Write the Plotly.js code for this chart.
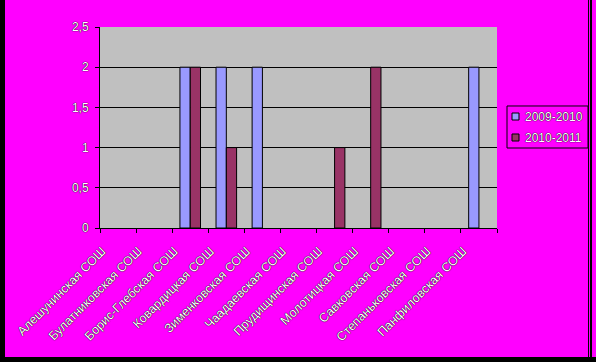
<!DOCTYPE html>
<html>
<head>
<meta charset="utf-8">
<script src="https://cdn.plot.ly/plotly-3.0.1.min.js"></script>
<style>
  html, body { margin: 0; padding: 0; background: #FF00FF; }
  #wrap { position: relative; width: 596px; height: 362px; overflow: hidden; }
  #chart { position: absolute; left: 0; top: 0; width: 596px; height: 362px; }
  .bd { position: absolute; background: #000; pointer-events: none; }
</style>
</head>
<body>
<div id="wrap">
  <div id="chart"></div>
  <div class="bd" style="left:0;top:0;width:5px;height:362px;"></div>
  <div class="bd" style="left:0;top:357px;width:596px;height:5px;"></div>
  <div class="bd" style="left:588px;top:0;width:1px;height:362px;"></div>
  <div class="bd" style="left:590px;top:0;width:2px;height:362px;"></div>
</div>
<script>
const categories = [
  "Алешунинская СОШ",
  "Булатниковская СОШ",
  "Борис-Глебская СОШ",
  "Ковардицкая СОШ",
  "Зименковская СОШ",
  "Чаадаевская СОШ",
  "Прудищинская СОШ",
  "Молотицкая СОШ",
  "Савковская СОШ",
  "Степаньковская СОШ",
  "Панфиловская СОШ"
];
const series2009_2010 = [0, 0, 2, 2, 2, 0, 0, 0, 0, 0, 2];
const series2010_2011 = [0, 0, 2, 1, 0, 0, 1, 2, 0, 0, 0];
const seriesNames = ["2009-2010", "2010-2011"];
const seriesColors = ["#9999FF", "#993366"];
const yTickVals = [0, 0.5, 1, 1.5, 2, 2.5];

const baseFont = {
  family: "Liberation Sans, Arial, sans-serif",
  size: 12,
  color: "#ffffff",
  shadow: "0 0 1px #000, 0 0 1px #000"
};
const xFont = Object.assign({}, baseFont, { size: 12.5 });

// zero-height bars are invisible in the original, so no outline for them
const outline = vals => vals.map(v => (v > 0 ? 1 : 0));

const traces = [
  {
    type: "bar", name: seriesNames[0], x: categories, y: series2009_2010,
    marker: { color: seriesColors[0], line: { color: "#000000", width: outline(series2009_2010) } }
  },
  {
    type: "bar", name: seriesNames[1], x: categories, y: series2010_2011,
    marker: { color: seriesColors[1], line: { color: "#000000", width: outline(series2010_2011) } }
  }
];

// compact legend (box, swatches, labels) placed to the right of the plot
const legendShapes = [
  { type: "rect", xref: "paper", yref: "paper", x0: 1.0252, x1: 1.2292, y0: 0.398, y1: 0.607,
    line: { color: "#000", width: 1 }, fillcolor: "rgba(0,0,0,0)" }
];
const legendAnnotations = [];
const swatchY = [[0.5373, 0.5721], [0.4328, 0.4677]];
const labelY = [0.5522, 0.4478];
seriesNames.forEach((nm, i) => {
  legendShapes.push({ type: "rect", xref: "paper", yref: "paper",
    x0: 1.0378, x1: 1.0554, y0: swatchY[i][0], y1: swatchY[i][1],
    line: { color: "#000", width: 1 }, fillcolor: seriesColors[i] });
  legendAnnotations.push({ xref: "paper", yref: "paper", x: 1.0655, y: labelY[i],
    xanchor: "left", yanchor: "middle", showarrow: false, text: nm, font: baseFont });
});

const layout = {
  width: 596, height: 362,
  margin: { l: 100, r: 99, t: 27, b: 134, autoexpand: false },
  paper_bgcolor: "#FF00FF",
  plot_bgcolor: "#C0C0C0",
  separators: ", ",
  barmode: "group",
  bargap: 0.43,
  bargroupgap: 0,
  showlegend: false,
  font: baseFont,
  xaxis: {
    type: "category",
    tickangle: -45,
    tickson: "boundaries",
    ticks: "outside", ticklen: 4, tickcolor: "#000",
    showline: true, linecolor: "#000", linewidth: 1,
    showgrid: false,
    ticklabelstandoff: 10,
    ticklabelshift: -16,
    tickfont: xFont
  },
  yaxis: {
    range: [0, 2.5],
    tickvals: yTickVals,
    ticks: "outside", ticklen: 4, tickcolor: "#000",
    showline: true, linecolor: "#000", linewidth: 1,
    showgrid: true, gridcolor: "#000", gridwidth: 1,
    zeroline: false,
    ticklabelstandoff: 4,
    tickfont: baseFont
  },
  shapes: legendShapes,
  annotations: legendAnnotations
};

Plotly.newPlot("chart", traces, layout, { displayModeBar: false, staticPlot: true });
</script>
</body>
</html>
